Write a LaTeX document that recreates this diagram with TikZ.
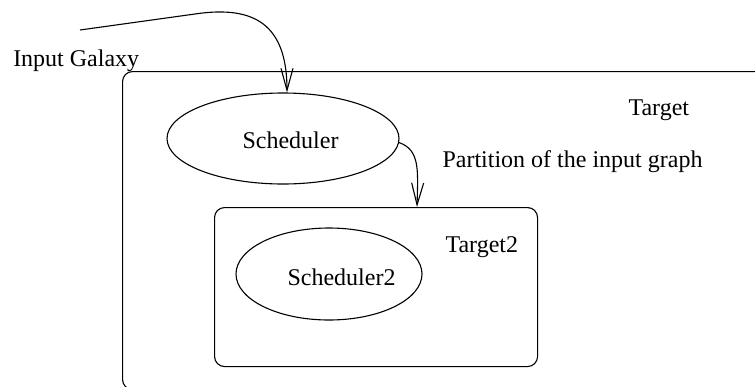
\documentclass[tikz,border=0pt]{standalone}
\usepackage{fontspec}
\setmainfont{Liberation Serif}
\usetikzlibrary{arrows.meta,calc,shapes.geometric}
\begin{document}
\begin{tikzpicture}[x=1pt,y=-1pt,
  line width=1.1pt,
  lbl/.style={anchor=base west, inner sep=0pt, font=\fontsize{24}{28}\selectfont},
  oval/.style={ellipse, draw, inner sep=0pt},
  box/.style={draw, rounded corners=10pt, inner sep=0pt, anchor=north west},
  flow/.style={-{Straight Barb[length=22pt,width=12pt]}}]
\useasboundingbox (0,0) rectangle (755,386);
\clip (0,0) rectangle (755,386);

% outer target, running past the page edge
\node[box, minimum width=660pt, minimum height=318pt] (target) at (122,71) {};
\node[lbl] (targetlbl) at (628,115) {Target};

% scheduler of the outer target
\node[oval, minimum width=232pt, minimum height=91pt] (sched) at (283,138.5) {};
\node[lbl] (schedlbl) at (242,148) {Scheduler};

% nested target
\node[box, minimum width=323pt, minimum height=159pt] (target2) at (214,207) {};
\node[lbl] (target2lbl) at (445,252) {Target2};
\node[oval, minimum width=186pt, minimum height=92pt] (sched2) at (329,274) {};
\node[lbl] (sched2lbl) at (287,285) {Scheduler2};

% input
\coordinate (in) at (80,30);
\node[lbl] (inlbl) at (12.7,66) {Input Galaxy};
\draw[flow] (in) -- (195,14) .. controls (255,5) and (287,25) .. ([xshift=4pt]sched.north);

% partition passed down
\draw[flow] (sched.-2.5) .. controls (420,150) and (418,170) .. ($(target2.north west)+(203,0)$);
\node[lbl] (partlbl) at (442,167) {Partition of the input graph};
\end{tikzpicture}
\end{document}
